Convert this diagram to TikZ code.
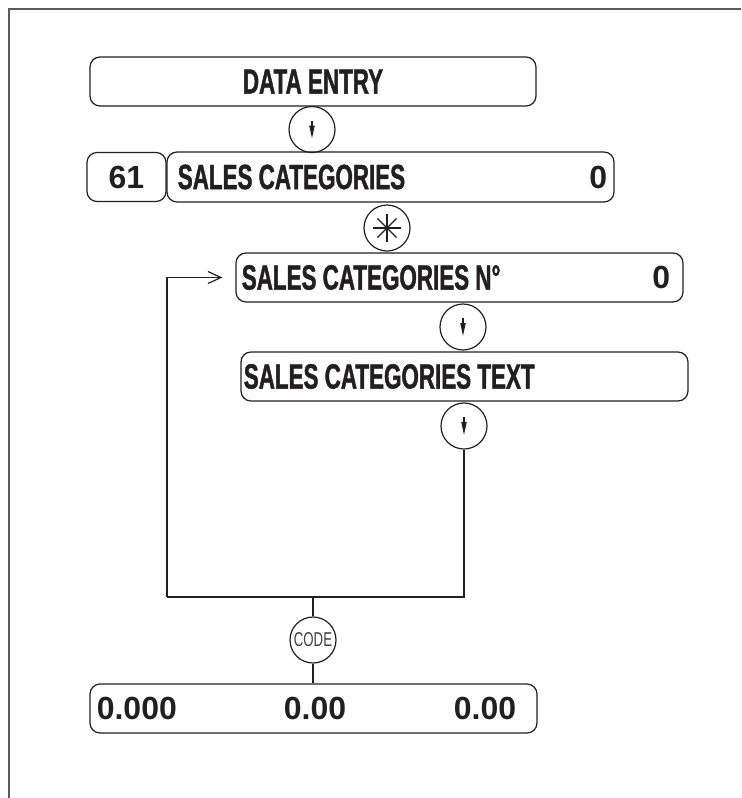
\documentclass[tikz,border=0pt]{standalone}
\usepackage{fontspec}
\setmainfont{Liberation Sans}
\newfontfamily\condfont{Liberation Sans}[FakeStretch=0.64,FakeBold=1.2]
\newfontfamily\codefont{Liberation Sans}[FakeStretch=0.66]
\usetikzlibrary{arrows.meta,positioning}
\definecolor{pline}{RGB}{35,31,32}
\definecolor{pframe}{RGB}{90,90,90}
\tikzset{
  panel/.style={draw=pline, line width=0.6pt, rounded corners=5pt, inner sep=0pt, minimum height=24.5pt},
  key/.style={draw=pline, line width=0.6pt, circle, minimum size=23pt, inner sep=0pt},
  lbl/.style={inner sep=0pt, text=pline, font=\condfont\bfseries\fontsize{17.5}{19}\selectfont},
  num/.style={inner sep=0pt, text=pline, font=\bfseries\fontsize{16}{18}\selectfont},
  wire/.style={draw=pline, line width=0.6pt},
  keyarrow/.style={pline, line width=0.6pt, -{Triangle[length=6.5pt,width=2.6pt]}}
}

\begin{document}
\begin{tikzpicture}[x=0.5pt,y=-0.5pt]
  \useasboundingbox (0,0) rectangle (741,798);
  % Page frame
  \draw[pframe, line width=0.75pt] (9,798) -- (9,9) -- (741,9);
  % Display panels
  \node[panel, lbl, minimum width=223pt] (entry) at (313,81.5) {DATA ENTRY};
  \node[panel, num, minimum width=39.5pt] (step61) at (126.5,177) {61};
  \node[panel, minimum width=223.5pt, minimum height=25pt] (cat) at (390.5,177) {};
  \node[panel, minimum width=223.5pt] (catno) at (459.5,277.5) {};
  \node[panel, minimum width=223.5pt] (cattxt) at (464.5,376.5) {};
  \node[panel, minimum width=223.5pt] (total) at (313.5,708.5) {};
  % Panel texts
  \node[lbl, anchor=west] (catname) at ([xshift=5.5pt]cat.west) {SALES CATEGORIES};
  \node[num, anchor=east] (catval) at ([xshift=-3.5pt]cat.east) {0};
  \node[lbl, anchor=west] (catnoname) at ([xshift=3pt]catno.west) {SALES CATEGORIES N°};
  \node[num, anchor=east] (catnoval) at ([xshift=-6.5pt]catno.east) {0};
  \node[lbl, anchor=west] (cattxtname) at ([xshift=1.5pt]cattxt.west) {SALES CATEGORIES TEXT};
  \node[num, anchor=west] (totleft) at ([xshift=3.5pt]total.west) {0.000};
  \node[num] (totmid) at (315,708.5) {0.00};
  \node[num, anchor=east] (totright) at ([xshift=-10.5pt]total.east) {0.00};
  % Keys
  \node[key] (kA) at (312,129.5) {};
  \node[key] (kStar) at (387,228) {};
  \node[key] (kC) at (463,327) {};
  \node[key] (kD) at (464,426) {};
  \node[key, font=\codefont\fontsize{10}{11}\selectfont, text=black!75] (kCode) at (313,640) {CODE};
  \foreach \k in {kA,kC,kD} {
    \draw[keyarrow] ([yshift=4.5pt]\k.center) -- ([yshift=-4.5pt]\k.center);
  }
  \foreach \a in {0,45,90,135} {
    \draw[pline, line width=0.6pt] ([shift={(\a:6.8pt)}]kStar.center) -- ([shift={(\a+180:6.8pt)}]kStar.center);
  }
  % Return loop
  \coordinate (busL) at (167,597);
  \coordinate (busR) at (464,597);
  \draw[wire] (kD.south) -- (busR) -- (busL);
  \draw[wire, -{Straight Barb[length=6.5pt,width=6pt]}, shorten >=6.5pt] (busL) |- (catno.west);
  \draw[wire] (kCode.north |- busL) -- (kCode.north);
  \draw[wire] (kCode.south) -- (kCode.south |- total.north);
\end{tikzpicture}
\end{document}
